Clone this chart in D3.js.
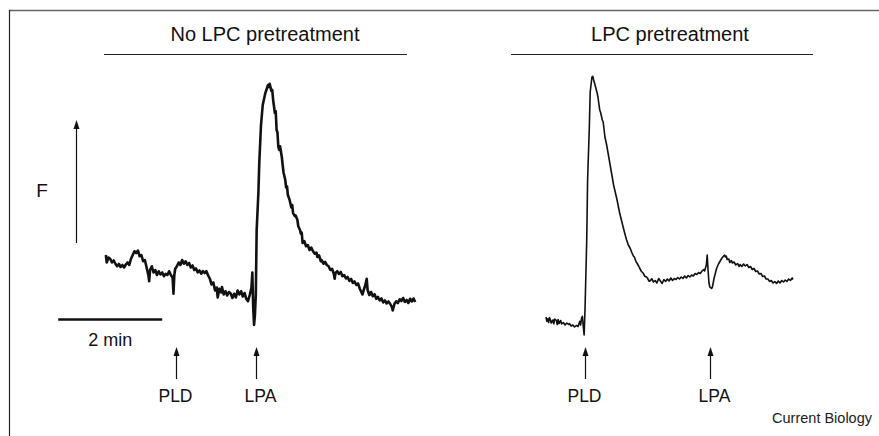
<!DOCTYPE html>
<html>
<head>
<meta charset="utf-8">
<script src="https://cdn.jsdelivr.net/npm/d3@7"></script>
<style>
  html, body { margin: 0; padding: 0; background: #fff; }
  svg { display: block; font-family: "Liberation Sans", Arial, sans-serif; }
</style>
</head>
<body>
<svg id="chart" width="879" height="436"></svg>
<script>
// ---- Data (time in seconds, fluorescence F in arbitrary units) ----
const panelTitles = ["No LPC pretreatment", "LPC pretreatment"];
const eventLabels = ["PLD", "LPA"];
const leftEventTimes = [82, 174];
const rightEventTimes = [45, 189];
const scaleBarLabel = "2 min";
const scaleBarSeconds = 120;
const yLabel = "F";
const creditText = "Current Biology";

const leftTime = [1,2,4,6,8,10,12,14,16,18,20,22,24,26,28,30,32,34,36,38,40,42,44,46,48,50,51,52,54,56,58,60,62,64,66,68,70,72,74,76,78,79,80,81,83,85,87,89,91,93,95,97,99,101,103,105,107,109,111,113,115,117,119,121,123,125,127,129,130,132,134,135,137,139,141,143,145,147,149,151,153,155,157,159,161,163,165,167,169,170,171,172,173,174,175,177,178,180,182,185,187,188,189,190,192,193,194,196,197,198,199,200,201,202,204,205,206,208,209,210,211,213,215,216,217,219,220,222,223,225,226,227,228,230,232,234,236,238,240,242,244,245,247,249,250,252,254,256,258,260,262,264,265,266,268,270,272,274,276,278,280,282,284,286,288,290,292,294,296,297,299,300,302,303,305,307,309,311,313,315,317,319,321,323,325,327,329,331,332,334,336,338,340,342,344,346,348,350,352,354,356,358];
const leftF = [30,27,29,28.5,27,27.8,26.5,25.5,26.4,25.2,26,25,26.2,27,26,28.5,30,31.5,30.8,31.8,29.5,30,27.5,28,25,22,19.5,24,25.5,23,24,22,23.5,22.2,23,21.5,22.5,22,23.5,22,21,14.5,22,24.5,25.5,27,26,28,26.5,27.5,26,26.8,25,25.8,24,24.6,23,23.8,22.5,23.6,22.8,23.5,21.8,20.5,18.2,19,15.8,17,13,16.5,15,17.2,14.2,15.5,13.8,15.2,14.6,12.8,14.5,13,15.8,14.2,15.5,13.4,14.8,12.5,11.5,14,17,23,9,2,6,14,40,55,66.8,82,90,94.8,96.8,98,97.2,98.5,95.6,96,92,86.8,87.5,80,79,73.2,72,73.5,69.2,66,63,60,57,57.5,54,52,49,50,46.8,45.5,45.8,44,41.5,40,38.5,39,34.8,35.5,33.5,34,32,33,31.5,30.5,31,29.2,29.8,27.5,28,26.5,27.2,26,25.5,24,24.5,22.5,20.5,22.8,23.5,22.4,23.2,21.5,22,20.6,21.2,19.6,20.4,18.8,19.4,18,18.6,16.5,15,14.2,16.5,17.5,20.5,16,14,15.2,13.5,14.3,12.5,13.2,11.8,12.6,11,11.8,10.6,11.4,10.5,9.2,7.8,10.5,11.5,10.8,12.3,11.6,12.8,11.2,12,10.8,12.5,11.4,12.6,11.2];

const rightTime = [0,1,2,3,4,5,6,8,9,10,12,13,14,15,17,18,20,22,24,26,27,29,31,33,35,37,39,40,41,42,43,44,45,47,48,50,51,53,54,55,57,59,60,62,63,65,66,68,70,72,74,76,78,80,82,84,85,87,89,91,93,95,97,99,101,102,104,105,107,108,110,112,114,116,117,119,120,122,124,126,128,130,132,134,136,138,140,142,144,146,148,150,152,154,156,158,160,162,164,166,168,170,172,174,176,178,180,182,183,185,186,187,188,189,191,192,194,196,197,199,201,203,204,206,207,208,209,211,212,214,215,217,219,221,223,224,226,228,230,232,234,236,238,240,242,244,246,248,250,252,254,256,258,260,262,264,266,268,270,272,274,276,278,280,282,284,285];
const rightF = [5.2,3.5,4.5,3,5,4.2,2.8,4,2.5,4.4,3.8,2.2,4.2,2.6,3.8,2.4,3,2,2.8,2.2,2.6,1.6,2,1.2,1.8,1.4,3.5,2,4.8,5.5,1.5,-2,8,36,60,81.2,95.2,101.2,101.5,100,97.5,94.8,93,88,87,84,83.2,77.2,74,70,66,62,58,55,52,48.5,46.8,44,41.2,38.5,36,34,32.8,31,29.5,29.2,27.2,26.8,25.5,24.8,23.5,22.8,21.5,21.2,20.8,19.5,19.6,20.5,19.2,19.8,18.8,20.6,19.6,18.6,20.2,19.4,20.4,19.6,20.8,19.8,20.6,20.2,21,20.4,21.2,20.6,21.6,20.8,21.8,21.2,22,21.6,22.6,22.2,23,22.6,23.6,24.2,23.6,26,30,24,19,17.2,16.6,17.2,20.8,23.5,24.8,26.4,27.6,28.8,29.2,30,29.2,29.6,28.2,28.4,27,27.8,26.8,27.2,26,26.6,25.4,26.2,25.4,26.4,25.6,26.2,25,25.4,24.2,24.6,23.4,23.6,22.4,22.6,21.4,21.6,20.4,20.4,19.4,19.8,18.8,19.4,18.6,19.6,18.8,19.8,19.2,20,19.4,20.4,19.8,20.8,20.2];

// ---- Layout ----
const svg = d3.select("#chart");
const y = d3.scaleLinear().domain([0, 100]).range([330, 80]);
const xL = d3.scaleLinear().domain([0, 120]).range([105, 209]);
const xR = d3.scaleLinear().domain([0, 120]).range([546, 650]);

// frame (top and left edges)
svg.append("line").attr("x1", 9).attr("x2", 879).attr("y1", 10.5).attr("y2", 10.5)
  .attr("stroke", "#666").attr("stroke-width", 1.6);
svg.append("line").attr("x1", 9.5).attr("x2", 9.5).attr("y1", 10).attr("y2", 436)
  .attr("stroke", "#222").attr("stroke-width", 1.2);

// panel titles and rules
const panels = [
  {title: panelTitles[0], cx: 265, x1: 104, x2: 407},
  {title: panelTitles[1], cx: 670, x1: 511, x2: 813}
];
panels.forEach(p => {
  svg.append("text").attr("x", p.cx).attr("y", 41).attr("text-anchor", "middle")
    .attr("font-size", 20).attr("fill", "#111").text(p.title);
  svg.append("line").attr("x1", p.x1).attr("x2", p.x2).attr("y1", 54.5).attr("y2", 54.5)
    .attr("stroke", "#222").attr("stroke-width", 1.2);
});

// traces
const lineL = d3.line().x((d, i) => xL(leftTime[i])).y(d => y(d));
const lineR = d3.line().x((d, i) => xR(rightTime[i])).y(d => y(d));
svg.append("path").attr("d", lineL(leftF)).attr("fill", "none")
  .attr("stroke", "#111").attr("stroke-width", 2.6).attr("stroke-linejoin", "round");
svg.append("path").attr("d", lineR(rightF)).attr("fill", "none")
  .attr("stroke", "#111").attr("stroke-width", 1.6).attr("stroke-linejoin", "round");

// arrow helper
function arrow(x, yBottom, yTop) {
  svg.append("line").attr("x1", x).attr("x2", x).attr("y1", yBottom).attr("y2", yTop + 6)
    .attr("stroke", "#111").attr("stroke-width", 1.2);
  svg.append("path")
    .attr("d", `M${x},${yTop} L${x - 3},${yTop + 9} L${x + 3},${yTop + 9} Z`)
    .attr("fill", "#111");
}

// F arrow
arrow(76.5, 243, 120);
svg.append("text").attr("x", 42).attr("y", 197).attr("text-anchor", "middle")
  .attr("font-size", 19).attr("fill", "#111").text(yLabel);

// scale bar
const barStart = xL(-54);
const barEnd = barStart + (xL(scaleBarSeconds) - xL(0));
svg.append("line").attr("x1", barStart).attr("x2", barEnd).attr("y1", 319.5).attr("y2", 319.5)
  .attr("stroke", "#111").attr("stroke-width", 2.4);
svg.append("text").attr("x", (barStart + barEnd) / 2).attr("y", 346).attr("text-anchor", "middle")
  .attr("font-size", 18).attr("fill", "#111").text(scaleBarLabel);

// event arrows + labels
const labelShift = [-1, 4];
leftEventTimes.forEach((t, i) => {
  const x = Math.round(xL(t)) + 0.5;
  arrow(x, 379, 347);
  svg.append("text").attr("x", x + labelShift[i]).attr("y", 402).attr("text-anchor", "middle")
    .attr("font-size", 17.5).attr("fill", "#111").text(eventLabels[i]);
});
rightEventTimes.forEach((t, i) => {
  const x = Math.round(xR(t)) + 0.5;
  arrow(x, 379, 347);
  svg.append("text").attr("x", x + labelShift[i]).attr("y", 402).attr("text-anchor", "middle")
    .attr("font-size", 17.5).attr("fill", "#111").text(eventLabels[i]);
});

// credit
svg.append("text").attr("x", 872).attr("y", 423).attr("text-anchor", "end")
  .attr("font-size", 14.5).attr("fill", "#222").text(creditText);
</script>
</body>
</html>
